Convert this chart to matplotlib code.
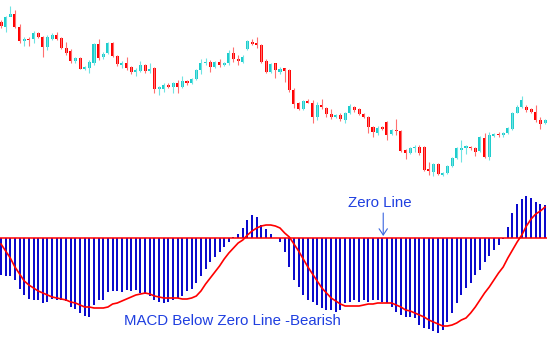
import matplotlib
matplotlib.use("Agg")
import matplotlib.pyplot as plt
import numpy as np

# ---- price candles (arbitrary price units) ----
opens = [178, 173, 183, 186, 173, 159, 161, 161, 167, 163, 153, 161, 165, 162, 152, 149, 139, 142, 131, 132,
         137, 156, 143, 147, 157, 144, 135, 137, 133, 128, 129, 135, 129, 132, 111, 111, 115, 113, 117, 113,
         119, 117, 121, 130, 137, 138, 133, 138, 135, 137, 147, 141, 138, 151, 158, 157, 155, 139, 128, 137,
         128, 132, 130, 110, 97, 91, 99, 97, 83, 95, 92, 86, 83, 85, 80, 87, 93, 91, 86, 83,
         73, 67, 73, 78, 66, 70, 69, 50, 47, 52, 53, 53, 31, 28, 36, 25, 27, 34, 42, 50,
         52, 53, 52, 49, 62, 43, 64, 66, 65, 67, 71, 87, 93, 93, 91, 88, 80, 77]
highs = [180, 184, 194, 190, 176, 163, 163, 169, 168, 164, 165, 167, 168, 163, 158, 151, 143, 143, 134, 140,
         157, 161, 148, 158, 158, 145, 139, 143, 134, 132, 139, 136, 137, 133, 114, 117, 117, 118, 120, 124,
         120, 122, 131, 141, 142, 140, 139, 141, 138, 150, 153, 145, 145, 160, 161, 163, 156, 141, 137, 137,
         133, 132, 131, 112, 98, 100, 101, 100, 98, 101, 93, 91, 86, 87, 88, 96, 94, 92, 87, 84,
         74, 74, 74, 79, 71, 81, 70, 51, 53, 55, 55, 54, 38, 37, 37, 28, 35, 43, 53, 60,
         55, 54, 53, 64, 67, 68, 67, 68, 68, 73, 88, 95, 104, 95, 92, 95, 83, 81]
lows = [172, 168, 184, 172, 157, 154, 154, 157, 162, 143, 150, 160, 160, 151, 145, 137, 137, 131, 130, 127,
        135, 140, 141, 146, 143, 134, 132, 130, 126, 124, 128, 127, 127, 107, 105, 108, 112, 107, 107, 112,
        115, 116, 120, 126, 135, 128, 132, 133, 134, 135, 138, 135, 137, 150, 155, 152, 137, 127, 127, 122,
        126, 118, 108, 92, 90, 90, 97, 77, 80, 91, 83, 81, 82, 79, 77, 86, 88, 85, 82, 67,
        63, 65, 70, 60, 65, 65, 48, 41, 46, 48, 45, 29, 25, 24, 25, 24, 26, 33, 41, 38,
        46, 50, 44, 48, 42, 40, 63, 63, 63, 66, 70, 87, 92, 88, 87, 78, 71, 76]
closes = [174, 183, 186, 173, 159, 161, 160, 167, 163, 153, 163, 165, 161, 152, 147, 139, 142, 131, 133, 138,
          156, 142, 146, 157, 144, 136, 137, 132, 128, 130, 135, 129, 131, 111, 113, 115, 113, 117, 113, 119,
          117, 121, 130, 137, 138, 133, 138, 135, 137, 147, 141, 139, 143, 159, 156, 155, 138, 128, 136, 130,
          131, 129, 110, 96, 91, 99, 97, 83, 95, 93, 86, 83, 85, 81, 87, 94, 90, 86, 83, 73,
          68, 72, 71, 65, 70, 69, 49, 47, 52, 53, 47, 30, 29, 36, 26, 27, 34, 42, 52, 52,
          54, 52, 48, 63, 43, 65, 66, 65, 67, 72, 87, 93, 100, 90, 88, 80, 76, 80]

# ---- MACD histogram and signal line ----
macd_hist = [-37, -38, -38, -42, -51, -57, -61, -62, -62, -65, -64, -61, -62, -62, -63, -69, -71, -75, -78, -79,
             -67, -62, -62, -54, -53, -53, -54, -52, -53, -52, -55, -56, -58, -62, -64, -65, -64, -62, -60, -58,
             -53, -51, -45, -38, -31, -24, -19, -14, -9, -4, 1, 4, 10, 18, 23, 21, 13, 9, 4, 0.5,
             -4, -14, -29, -42, -49, -57, -62, -64, -67, -70, -72, -72, -74, -72, -65, -64, -62, -64, -62, -64,
             -62, -62, -64, -65, -69, -74, -77, -79, -79, -80, -87, -90, -91, -93, -95, -92, -84, -75, -65, -57,
             -50, -45, -37, -32, -24, -18, -12, -7, -1, 11, 25, 34, 39, 42, 40, 36, 34, 33]
signal = [-6, -13, -20, -29, -36, -43, -47, -50, -53, -55, -57, -59, -60, -61, -62, -64, -65, -67, -69, -69,
          -70, -70, -70, -69, -66, -65, -63, -61, -59, -57, -56, -55, -56, -58, -59, -60, -60, -60, -60, -61,
          -61, -60, -58, -53, -46, -40, -34, -28, -21, -15, -10, -5, -2, 3, 7, 10, 12, 13, 13, 12,
          10, 5, 1, -6, -13, -21, -29, -36, -43, -50, -55, -60, -63, -66, -68, -68, -68, -68, -67, -66,
          -66, -65, -65, -65, -65, -67, -69, -72, -73, -75, -77, -79, -82, -84, -86, -88, -88, -87, -85, -82,
          -80, -75, -69, -62, -55, -49, -42, -35, -29, -20, -12, -4, 3, 12, 19, 24, 27, 31]

o = np.array(opens, float)
h = np.array(highs, float)
l = np.array(lows, float)
c = np.array(closes, float)
idx = np.arange(len(o))

fig = plt.figure(figsize=(5.47, 3.51), dpi=100)
ax1 = fig.add_axes([0, 163 / 351, 1, 188 / 351])
ax2 = fig.add_axes([0, 0, 1, 163 / 351])
for ax in (ax1, ax2):
    ax.set_axis_off()
    ax.set_xlim(-0.215, 117.42)

up = c >= o
body_col = np.where(up, "#1ccccc", "#ff0000")
wick_col = np.where(up, "#6fe3e3", "#ff7070")
ax1.vlines(idx, l, h, colors=wick_col, linewidth=0.8)
ax1.bar(idx, np.maximum(np.abs(c - o), 0.8), bottom=np.minimum(o, c), width=0.66,
        color=body_col, linewidth=0)
ax1.set_ylim(12, 200)

ax2.bar(idx, macd_hist, width=0.43, color="#0a0acd", linewidth=0)
ax2.axhline(0, color="#ff0000", lw=1.1, zorder=3)
ax2.plot(idx, signal, color="#ff0000", lw=1.2, zorder=4)
ax2.set_ylim(-113, 50)

txt_col = "#1f3fe0"
ax2.text(74.6, 31, "Zero Line", color=txt_col, fontsize=10.8, family="Liberation Sans",
         ha="left", va="baseline")
ax2.annotate("", xy=(82.2, 2), xytext=(82.2, 25),
             arrowprops=dict(arrowstyle="->,head_length=0.45,head_width=0.3", color="#3a66e0",
                             lw=0.8, mutation_scale=10, shrinkA=0, shrinkB=0))
ax2.text(26.5, -87, "MACD Below Zero Line -Bearish", color=txt_col, fontsize=10.8,
         family="Liberation Sans", ha="left", va="baseline")

fig.savefig("out.png", dpi=100)
